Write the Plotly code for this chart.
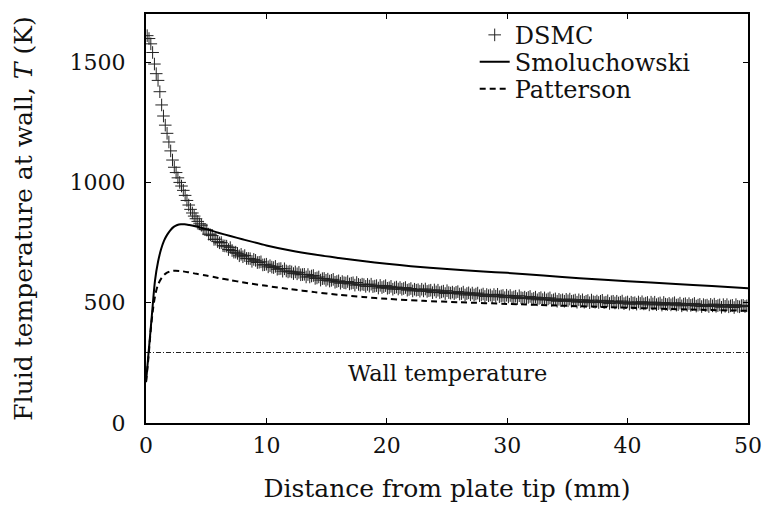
import plotly.graph_objects as go

# DSMC wall temperature samples (K), one per cell along the plate, cell pitch 0.15 mm from x = 0.1 mm
dsmc_T = [
    1610, 1598, 1576, 1540, 1492, 1452, 1424, 1377, 1322, 1276,
    1238, 1204, 1168, 1131, 1093, 1063, 1041, 1019, 1000, 985,
    967, 946, 925, 906, 888, 873, 860, 849, 838, 828,
    822, 807, 804, 802, 785, 782, 779, 763, 764, 754,
    749, 750, 737, 736, 735, 721, 729, 717, 710, 710,
    705, 695, 701, 691, 696, 684, 684, 683, 672, 680,
    676, 667, 668, 670, 657, 658, 660, 649, 654, 648,
    646, 651, 639, 641, 642, 631, 641, 632, 628, 631,
    628, 621, 628, 620, 626, 616, 617, 618, 607, 617,
    607, 611, 613, 601, 603, 607, 594, 600, 601, 593,
    598, 590, 593, 597, 585, 588, 591, 581, 588, 583,
    582, 588, 578, 581, 583, 573, 584, 576, 573, 577,
    575, 568, 576, 569, 577, 567, 569, 571, 561, 572,
    563, 567, 571, 560, 562, 568, 556, 562, 565, 557,
    563, 556, 559, 563, 552, 555, 559, 549, 556, 552,
    554, 548, 556, 549, 557, 547, 550, 552, 542, 553,
    545, 552, 542, 545, 548, 538, 550, 542, 540, 544,
    538, 543, 546, 536, 538, 544, 532, 538, 541, 533,
    540, 532, 536, 540, 529, 532, 536, 526, 534, 529,
    532, 525, 534, 527, 535, 525, 528, 530, 521, 531,
    524, 530, 521, 524, 527, 517, 529, 521, 519, 523,
    518, 522, 526, 515, 518, 523, 512, 518, 521, 513,
    520, 512, 516, 520, 509, 512, 516, 506, 514, 509,
    512, 506, 514, 508, 515, 506, 508, 511, 502, 512,
    505, 512, 502, 506, 509, 500, 511, 504, 502, 507,
    501, 506, 510, 500, 502, 508, 497, 504, 506, 499,
    506, 499, 502, 507, 496, 500, 503, 494, 502, 498,
    500, 494, 503, 497, 504, 495, 498, 501, 491, 502,
    495, 502, 492, 496, 499, 490, 501, 494, 492, 497,
    491, 496, 500, 490, 492, 498, 487, 494, 496, 489,
    496, 489, 492, 497, 486, 490, 493, 484, 492, 488,
    490, 484, 493, 487, 494, 485, 488, 491, 481, 492,
    485, 492, 483, 487, 489, 480, 492, 485, 483, 488, 489, 484, 487,
]
dsmc_x = [round(0.1 + 0.15 * k, 2) for k in range(len(dsmc_T))]

# Smoluchowski jump condition
smol_x = [0, 0.1, 0.2, 0.33, 0.5, 0.75, 1.0, 1.25, 1.5, 1.75, 2.0, 2.3, 2.6, 2.9,
          3.2, 3.6, 4.0, 5.0, 6.0, 7.0, 8.0, 10, 12, 14, 16, 18, 20, 22, 25, 28,
          30, 33, 36, 40, 44, 47, 50]
smol_T = [170, 225, 285, 358, 455, 593, 670, 722, 758, 782, 800, 815, 823, 826,
          826, 823, 819, 806, 791, 777, 764, 738, 717, 700, 686, 673, 662, 652, 640, 630,
          624, 613, 602, 589, 578, 569, 560]

# Patterson jump condition
patt_x = [0, 0.2, 0.4, 0.6, 0.8, 1.0, 1.3, 1.6, 2.0, 2.4, 2.8, 3.5, 4.2, 5.0, 6.0,
          7.0, 8.0, 10, 12, 14, 16, 18, 20, 23, 26, 30, 35, 40, 45, 50]
patt_T = [170, 270, 390, 480, 540, 575, 603, 620, 630, 633, 632, 627, 620, 613, 603,
          594, 585, 570, 556, 544, 533, 524, 516, 508, 502, 495, 487, 479, 472, 466]

wall_x = [0, 50]
wall_T = [293, 293]

FONT = "DejaVu Serif"
INK = "#111111"
TICK_FS = 22
TITLE_FS = 25
LEGEND_FS = 24

fig = go.Figure()

fig.add_trace(go.Scatter(
    x=wall_x, y=wall_T, mode="lines", showlegend=False,
    line=dict(color="#222222", width=1, dash="5px,2px,1px,2px"),
    hoverinfo="skip",
))
fig.add_trace(go.Scatter(
    x=dsmc_x, y=dsmc_T, mode="markers", name="DSMC", legend="legend",
    marker=dict(symbol="cross-thin", size=9, color="#222222",
                line=dict(color="#222222", width=1)),
))
fig.add_trace(go.Scatter(
    x=smol_x, y=smol_T, mode="lines", name="Smoluchowski", legend="legend2",
    line=dict(color="black", width=2, shape="spline", smoothing=0.8),
))
fig.add_trace(go.Scatter(
    x=patt_x, y=patt_T, mode="lines", name="Patterson", legend="legend3",
    line=dict(color="black", width=2, dash="6px,4px", shape="spline", smoothing=0.8),
))

fig.add_annotation(
    x=25, y=207, xref="x", yref="y", text="Wall temperature", showarrow=False,
    font=dict(family=FONT, size=22.5, color=INK), xanchor="center", yanchor="middle",
)

axis_common = dict(
    showline=True, linecolor="black", linewidth=2, mirror="ticks",
    ticks="inside", ticklen=5, tickwidth=1, tickcolor="black",
    showgrid=False, zeroline=False,
    tickfont=dict(family=FONT, size=TICK_FS, color=INK),
)

fig.update_xaxes(
    range=[0, 50], tickvals=[0, 10, 20, 30, 40, 50], ticklabelstandoff=2,
    title=dict(text="Distance from plate tip (mm)", standoff=22,
               font=dict(family=FONT, size=TITLE_FS, color=INK)),
    **axis_common,
)
fig.update_yaxes(
    range=[0, 1700], tickvals=[0, 500, 1000, 1500], ticklabelstandoff=14,
    title=dict(text="Fluid temperature at wall, <i>T</i> (K)", standoff=30,
               font=dict(family=FONT, size=TITLE_FS, color=INK)),
    **axis_common,
)

legend_common = dict(
    xanchor="left", yanchor="top", x=0.546,
    bgcolor="rgba(0,0,0,0)", borderwidth=0,
    font=dict(family=FONT, size=LEGEND_FS, color=INK),
)

fig.update_layout(
    width=765, height=513,
    margin=dict(l=146, r=17, t=14, b=90, autoexpand=False),
    paper_bgcolor="white", plot_bgcolor="white",
    font=dict(family=FONT, size=TICK_FS, color=INK),
    legend=dict(y=1.003, **legend_common),
    legend2=dict(y=0.937, **legend_common),
    legend3=dict(y=0.871, **legend_common),
)

fig.write_html("out.html")
